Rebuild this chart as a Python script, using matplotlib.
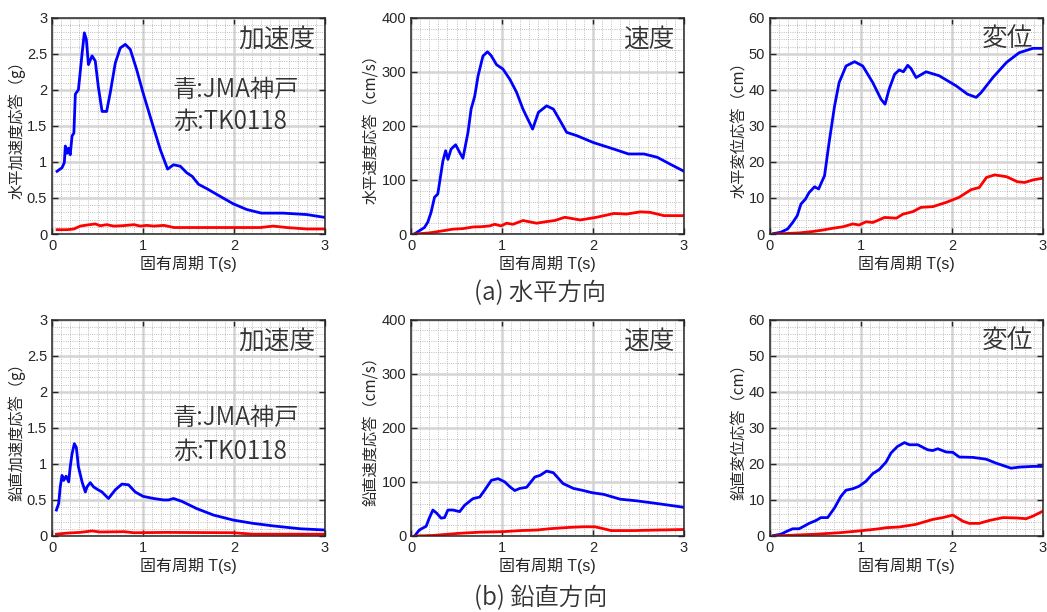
import matplotlib
matplotlib.use("Agg")
import matplotlib.pyplot as plt
from matplotlib import ticker as mticker

plt.rcParams["font.family"] = ["Liberation Sans", "Noto Sans CJK JP"]

# horizontal acceleration (g)
h_acc_blue_t = [0.055, 0.11, 0.135, 0.146, 0.165, 0.18, 0.2, 0.22, 0.24, 0.256, 0.29, 0.33, 0.355, 0.377,
                0.40, 0.44, 0.475, 0.51, 0.55, 0.6, 0.64, 0.695, 0.75, 0.805, 0.86, 0.93, 1.0, 1.10,
                1.19, 1.27, 1.335, 1.41, 1.48, 1.54, 1.61, 1.70, 1.81, 1.99, 2.14, 2.30, 2.54, 2.80, 3.0]
h_acc_blue = [0.87, 0.92, 0.99, 1.22, 1.12, 1.19, 1.10, 1.36, 1.40, 1.94, 2.0, 2.5, 2.79, 2.7,
              2.35, 2.47, 2.40, 2.03, 1.70, 1.70, 1.96, 2.37, 2.58, 2.63, 2.56, 2.28, 1.96, 1.54,
              1.17, 0.90, 0.96, 0.94, 0.85, 0.80, 0.69, 0.63, 0.55, 0.42, 0.34, 0.29, 0.29, 0.27, 0.23]
h_acc_red_t = [0.055, 0.165, 0.24, 0.31, 0.385, 0.475, 0.53, 0.6, 0.68, 0.77, 0.9, 0.97, 1.04, 1.12,
               1.23, 1.34, 1.55, 1.81, 2.29, 2.43, 2.58, 2.8, 3.0]
h_acc_red = [0.06, 0.06, 0.07, 0.11, 0.125, 0.14, 0.115, 0.13, 0.11, 0.115, 0.13, 0.11, 0.12, 0.11,
             0.12, 0.09, 0.09, 0.09, 0.09, 0.11, 0.09, 0.07, 0.07]

# horizontal velocity (cm/s)
h_vel_blue_t = [0.037, 0.09, 0.147, 0.184, 0.22, 0.258, 0.294, 0.35, 0.38, 0.405, 0.44, 0.49, 0.534, 0.57,
                0.626, 0.66, 0.70, 0.736, 0.79, 0.84, 0.88, 0.94, 1.01, 1.086, 1.16, 1.23, 1.336, 1.40,
                1.49, 1.564, 1.64, 1.71, 1.82, 2.006, 2.23, 2.39, 2.56, 2.705, 2.85, 3.0]
h_vel_blue = [0, 6, 12, 22, 40, 68, 74, 135, 154, 138, 157, 165, 151, 140,
              188, 231, 255, 292, 329, 337, 330, 313, 305, 286, 262, 231, 194, 225,
              237, 231, 209, 188, 182, 169, 157, 148, 148, 142, 129, 116]
h_vel_red_t = [0.037, 0.2, 0.35, 0.46, 0.57, 0.68, 0.77, 0.865, 0.92, 0.99, 1.05, 1.12, 1.23, 1.38,
               1.49, 1.58, 1.69, 1.86, 2.04, 2.23, 2.37, 2.52, 2.63, 2.78, 3.0]
h_vel_red = [0, 2, 6, 9, 10, 13, 13.5, 15, 18, 15, 20, 18, 25, 20,
             23, 25, 31, 26, 31, 38, 37, 41, 40, 34, 34]

# horizontal displacement (cm)
h_dis_blue_t = [0.037, 0.12, 0.194, 0.25, 0.30, 0.34, 0.39, 0.43, 0.49, 0.535, 0.6, 0.65, 0.71, 0.76,
                0.836, 0.93, 1.02, 1.13, 1.22, 1.265, 1.31, 1.37, 1.42, 1.467, 1.514, 1.55, 1.606,
                1.716, 1.86, 2.046, 2.17, 2.266, 2.32, 2.45, 2.6, 2.74, 2.89, 3.0]
h_dis_blue = [0.1, 0.5, 1.4, 3.2, 5.1, 8.3, 9.7, 11.5, 13.1, 12.5, 16.2, 25.4, 35.5, 42,
              46.6, 47.8, 46.6, 42, 37.4, 36, 40.2, 44.3, 45.5, 45, 46.8, 45.9, 43.4,
              45, 43.9, 41.1, 38.8, 37.9, 39.2, 43.4, 47.6, 50.3, 51.5, 51.5]
h_dis_red_t = [0.037, 0.32, 0.47, 0.58, 0.69, 0.8, 0.91, 0.98, 1.056, 1.13, 1.26, 1.39, 1.46, 1.57,
               1.66, 1.79, 1.94, 2.08, 2.21, 2.30, 2.38, 2.47, 2.6, 2.72, 2.8, 2.89, 3.0]
h_dis_red = [0, 0.3, 0.7, 1.1, 1.6, 2.0, 2.8, 2.5, 3.4, 3.2, 4.6, 4.4, 5.5, 6.2,
             7.4, 7.6, 8.8, 10.2, 12.3, 12.9, 15.7, 16.4, 15.9, 14.5, 14.3, 15, 15.5]

# vertical acceleration (g)
v_acc_blue_t = [0.048, 0.073, 0.09, 0.11, 0.128, 0.154, 0.183, 0.2, 0.22, 0.245, 0.267, 0.29, 0.33, 0.366,
                0.384, 0.42, 0.457, 0.494, 0.549, 0.62, 0.695, 0.768, 0.84, 0.915, 1.0, 1.116, 1.226,
                1.28, 1.335, 1.427, 1.59, 1.775, 1.994, 2.21, 2.43, 2.73, 3.0]
v_acc_blue = [0.36, 0.45, 0.68, 0.84, 0.77, 0.83, 0.75, 0.96, 1.14, 1.28, 1.23, 0.96, 0.75, 0.61,
              0.68, 0.74, 0.68, 0.65, 0.61, 0.52, 0.64, 0.72, 0.71, 0.61, 0.55, 0.52, 0.50,
              0.50, 0.52, 0.48, 0.38, 0.29, 0.22, 0.175, 0.14, 0.10, 0.083]
v_acc_red_t = [0.048, 0.165, 0.31, 0.44, 0.53, 0.79, 0.9, 1.26, 1.99, 2.21, 3.0]
v_acc_red = [0.025, 0.04, 0.05, 0.07, 0.055, 0.06, 0.045, 0.05, 0.045, 0.025, 0.025]

# vertical velocity (cm/s)
v_vel_blue_t = [0.044, 0.09, 0.166, 0.2, 0.24, 0.283, 0.33, 0.368, 0.405, 0.46, 0.534, 0.59, 0.68, 0.755,
                0.81, 0.883, 0.957, 1.03, 1.086, 1.14, 1.196, 1.27, 1.36, 1.417, 1.49, 1.564, 1.67,
                1.785, 1.895, 1.99, 2.116, 2.3, 2.48, 2.705, 3.0]
v_vel_blue = [1, 11, 18, 33, 48, 42, 33, 34, 48, 48, 45, 57, 69, 72,
              85, 103, 106, 100, 91, 84, 88, 90, 109, 112, 120, 117, 97,
              88, 84, 80, 77, 68, 65, 60, 53]
v_vel_red_t = [0.044, 0.24, 0.534, 0.755, 1.01, 1.2, 1.38, 1.53, 1.75, 1.895, 2.02, 2.1, 2.2, 2.45, 2.7, 3.0]
v_vel_red = [0, 1, 5, 7, 8, 10, 11, 13.5, 16, 17, 17, 14, 10, 10, 11, 12]

# vertical displacement (cm)
v_dis_blue_t = [0.037, 0.12, 0.194, 0.25, 0.32, 0.38, 0.43, 0.506, 0.56, 0.634, 0.71, 0.78, 0.836, 0.91,
                0.98, 1.056, 1.13, 1.2, 1.276, 1.33, 1.40, 1.478, 1.533, 1.625, 1.734, 1.79, 1.844,
                1.936, 2.01, 2.08, 2.23, 2.376, 2.486, 2.65, 2.74, 2.89, 3.0]
v_dis_blue = [0.1, 0.5, 1.4, 2.0, 2.0, 2.8, 3.5, 4.3, 5.1, 5.1, 7.8, 11.0, 12.7, 13.1,
              13.8, 15.2, 17.3, 18.4, 20.5, 23.0, 24.8, 25.9, 25.3, 25.3, 23.9, 23.7, 24.2,
              23.3, 23.2, 21.9, 21.8, 21.3, 20.2, 18.8, 19.1, 19.3, 19.3]
v_dis_red_t = [0.037, 0.506, 0.76, 0.98, 1.2, 1.276, 1.42, 1.6, 1.79, 1.9, 2.01, 2.12, 2.19, 2.30,
               2.41, 2.56, 2.706, 2.816, 2.89, 3.0]
v_dis_red = [0, 0.5, 0.9, 1.4, 2.0, 2.3, 2.5, 3.2, 4.6, 5.1, 5.8, 4.1, 3.5, 3.5,
             4.3, 5.1, 5.0, 4.8, 5.5, 6.9]

panels = [
    (h_acc_blue_t, h_acc_blue, h_acc_red_t, h_acc_red, 3, 0.5, 0.1, "水平加速度応答（g）", "加速度", "%g"),
    (h_vel_blue_t, h_vel_blue, h_vel_red_t, h_vel_red, 400, 100, 20, "水平速度応答（cm/s）", "速度", "%d"),
    (h_dis_blue_t, h_dis_blue, h_dis_red_t, h_dis_red, 60, 10, 2, "水平変位応答（cm）", "変位", "%d"),
    (v_acc_blue_t, v_acc_blue, v_acc_red_t, v_acc_red, 3, 0.5, 0.1, "鉛直加速度応答（g）", "加速度", "%g"),
    (v_vel_blue_t, v_vel_blue, v_vel_red_t, v_vel_red, 400, 100, 20, "鉛直速度応答（cm/s）", "速度", "%d"),
    (v_dis_blue_t, v_dis_blue, v_dis_red_t, v_dis_red, 60, 10, 2, "鉛直変位応答（cm）", "変位", "%d"),
]

TXT = "#262626"
CJK = ["Noto Sans CJK JP"]
W = 350
fig = plt.figure(figsize=(10.47, 6.12), dpi=100)
lefts = [0.0497, 0.3926, 0.7354]
bottoms = [0.6176, 0.1242]

for i, (bt, bv, rt, rv, ymax, ymaj, ymin, ylab, name, fmt) in enumerate(panels):
    row, col = divmod(i, 3)
    ax = fig.add_axes([lefts[col], bottoms[row], 0.2607, 0.3535])
    ax.set_xlim(0, 3)
    ax.set_ylim(0, ymax)
    ax.xaxis.set_major_locator(mticker.MultipleLocator(1))
    ax.xaxis.set_minor_locator(mticker.MultipleLocator(0.1))
    ax.yaxis.set_major_locator(mticker.MultipleLocator(ymaj))
    ax.yaxis.set_minor_locator(mticker.MultipleLocator(ymin))
    ax.yaxis.set_major_formatter(mticker.FormatStrFormatter(fmt))
    ax.grid(which="major", color="#d4d4d4", linewidth=1.8, linestyle="-")
    ax.grid(which="minor", color="#a8a8a8", linewidth=0.6, linestyle=":")
    ax.set_axisbelow(True)
    ax.tick_params(which="both", direction="in", top=True, right=True, colors=TXT, labelsize=10.5)
    ax.tick_params(which="major", length=4, width=1)
    ax.tick_params(which="minor", length=0)
    for sp in ax.spines.values():
        sp.set_color(TXT)
        sp.set_linewidth(1.1)
    ax.plot(bt, bv, color="#0000ff", linewidth=2.0)
    ax.plot(rt, rv, color="#ff0000", linewidth=2.0)
    ax.set_xlabel("固有周期 T(s)", fontsize=11.5, color=TXT, labelpad=2)
    ax.set_ylabel(ylab, fontsize=11, color=TXT, labelpad=1, family=CJK)
    ax.text(0.965, 0.90, name, transform=ax.transAxes, ha="right", va="center",
            fontsize=18.5, color="#333333", family=CJK, fontweight=W)
    if col == 0:
        ys = (0.667, 0.52) if row == 0 else (0.544, 0.387)
        for y, s in zip(ys, ["青:JMA神戸", "赤:TK0118"]):
            ax.text(0.443, y, s, transform=ax.transAxes, ha="left", va="center",
                    fontsize=17.5, color="#333333", family=CJK, fontweight=W)

fig.text(0.516, 0.521, "(a) 水平方向", ha="center", va="center", fontsize=17.5,
         color="#333333", family=CJK, fontweight=W)
fig.text(0.516, 0.023, "(b) 鉛直方向", ha="center", va="center", fontsize=17.5,
         color="#333333", family=CJK, fontweight=W)

fig.savefig("out.png", dpi=100)
